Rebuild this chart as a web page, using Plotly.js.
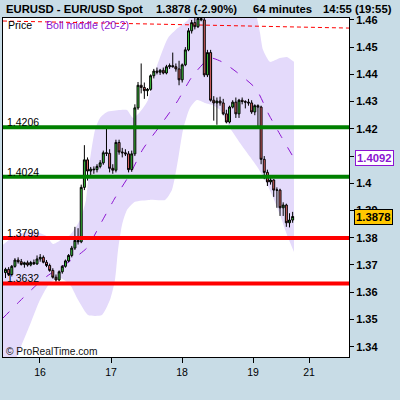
<!DOCTYPE html>
<html>
<head>
<meta charset="utf-8">
<script src="https://cdn.plot.ly/plotly-3.0.1.min.js"></script>
<style>html,body{margin:0;padding:0;background:#C8DCE6;}#chart{width:400px;height:400px;}</style>
</head>
<body>
<div id="chart"></div>
<script>
// ---------- DATA ----------
const instrument = "EURUSD - EUR/USD Spot";
const lastQuote = "1.3878 (-2.90%)";
const periodText = "64 minutes";
const timeText = "14:55 (19:55)";

const firstBar = 15.514;          // time of first bar, in days of the month
const barDays = 64 / 1440;        // 64-minute bars

const open = [1.3672,1.3684,1.3665,1.3695,1.3718,1.3712,1.3702,1.3708,1.3700,1.3709,
1.3704,1.3722,1.3728,1.3710,1.3698,1.3680,1.3655,1.3645,1.3675,1.3695,
1.3715,1.3735,1.3762,1.3790,1.3785,1.3985,1.4086,1.4045,1.4052,1.4050,
1.4062,1.4075,1.4112,1.4110,1.4055,1.4048,1.4150,1.4115,1.4112,1.4108,
1.4050,1.4108,1.4277,1.4360,1.4352,1.4340,1.4345,1.4395,1.4412,1.4408,
1.4415,1.4405,1.4428,1.4432,1.4428,1.4420,1.4380,1.4435,1.4490,1.4560,
1.4590,1.4575,1.4605,1.4600,1.4398,1.4480,1.4305,1.4295,1.4302,1.4295,
1.4255,1.4225,1.4280,1.4298,1.4255,1.4305,1.4300,1.4298,1.4295,1.4262,
1.4285,1.4280,1.4088,1.4040,1.4005,1.4012,1.3975,1.3975,1.3910,1.3920,
1.3855,1.3865];
const high = [1.3690,1.3692,1.3700,1.3725,1.3728,1.3722,1.3712,1.3716,1.3715,1.3720,
1.3735,1.3740,1.3735,1.3718,1.3705,1.3688,1.3665,1.3680,1.3700,1.3720,
1.3740,1.3770,1.3840,1.3835,1.3995,1.4140,1.4095,1.4060,1.4062,1.4070,
1.4085,1.4120,1.4200,1.4125,1.4070,1.4160,1.4160,1.4130,1.4125,1.4118,
1.4120,1.4290,1.4372,1.4440,1.4370,1.4350,1.4400,1.4420,1.4425,1.4420,
1.4425,1.4435,1.4440,1.4480,1.4440,1.4450,1.4440,1.4500,1.4570,1.4600,
1.4610,1.4620,1.4630,1.4620,1.4490,1.4490,1.4320,1.4315,1.4318,1.4310,
1.4270,1.4285,1.4305,1.4315,1.4310,1.4315,1.4305,1.4310,1.4305,1.4290,
1.4290,1.4285,1.4100,1.4050,1.4020,1.4015,1.3985,1.3980,1.3930,1.3925,
1.3890,1.3895];
const low = [1.3652,1.3660,1.3658,1.3690,1.3705,1.3698,1.3690,1.3694,1.3695,1.3700,
1.3700,1.3712,1.3706,1.3692,1.3675,1.3650,1.3638,1.3640,1.3668,1.3690,
1.3710,1.3728,1.3755,1.3775,1.3780,1.3975,1.4010,1.4025,1.4035,1.4040,
1.4055,1.4068,1.4100,1.4040,1.4035,1.4040,1.4105,1.4095,1.4100,1.4040,
1.4042,1.4100,1.4270,1.4330,1.4310,1.4320,1.4340,1.4385,1.4400,1.4398,
1.4400,1.4400,1.4420,1.4425,1.4410,1.4360,1.4370,1.4430,1.4485,1.4550,
1.4565,1.4570,1.4595,1.4390,1.4390,1.4300,1.4230,1.4215,1.4285,1.4250,
1.4220,1.4220,1.4275,1.4240,1.4240,1.4290,1.4275,1.4285,1.4255,1.4250,
1.4205,1.4070,1.4015,1.3990,1.3995,1.3950,1.3910,1.3880,1.3880,1.3840,
1.3838,1.3855];
const close = [1.3684,1.3665,1.3695,1.3718,1.3712,1.3702,1.3708,1.3700,1.3709,1.3704,
1.3722,1.3728,1.3710,1.3698,1.3680,1.3655,1.3645,1.3675,1.3695,1.3715,
1.3735,1.3762,1.3790,1.3785,1.3985,1.4086,1.4045,1.4052,1.4050,1.4062,
1.4075,1.4112,1.4110,1.4055,1.4048,1.4150,1.4115,1.4112,1.4108,1.4050,
1.4108,1.4277,1.4360,1.4352,1.4340,1.4345,1.4395,1.4412,1.4408,1.4415,
1.4405,1.4428,1.4432,1.4428,1.4420,1.4380,1.4435,1.4490,1.4560,1.4590,
1.4575,1.4605,1.4600,1.4398,1.4480,1.4305,1.4295,1.4302,1.4295,1.4255,
1.4225,1.4280,1.4298,1.4255,1.4305,1.4300,1.4298,1.4295,1.4262,1.4285,
1.4280,1.4088,1.4040,1.4005,1.4012,1.3975,1.3975,1.3910,1.3920,1.3855,
1.3865,1.3878];

// Bollinger (20,2)
const upperTime = [15.479,15.620,15.803,15.944,16.085,16.183,16.282,16.423,16.563,16.648,16.704,16.775,16.845,16.944,17.127,17.225,17.310,17.408,17.521,17.620,17.718,17.803,17.944,18.085,18.183,18.324,18.535,18.817,18.958,19.056,19.099,19.141,19.239,19.380,19.479,19.577];
const upperBand = [1.3774,1.3803,1.3821,1.3821,1.3807,1.3777,1.3790,1.3810,1.3865,1.3939,1.4086,1.4196,1.4240,1.4262,1.4269,1.4269,1.4240,1.4262,1.4306,1.4409,1.4482,1.4534,1.4571,1.4600,1.4655,1.4692,1.4710,1.4710,1.4673,1.4607,1.4552,1.4490,1.4446,1.4460,1.4464,1.4446];
const lowerTime = [15.479,15.577,15.676,15.859,16.000,16.141,16.282,16.423,16.535,16.676,16.775,16.873,16.986,17.056,17.099,17.155,17.225,17.338,17.549,17.761,17.859,17.944,18.014,18.113,18.211,18.324,18.423,18.535,18.676,18.817,18.958,19.070,19.169,19.268,19.380,19.479,19.577];
const lowerBand = [1.3204,1.3278,1.3362,1.3480,1.3572,1.3634,1.3652,1.3627,1.3572,1.3516,1.3513,1.3516,1.3572,1.3645,1.3755,1.3847,1.3902,1.3932,1.3939,1.3939,1.3976,1.4086,1.4196,1.4277,1.4306,1.4295,1.4288,1.4269,1.4203,1.4148,1.4097,1.4056,1.4012,1.3957,1.3884,1.3810,1.3748];
const middleTime = [15.479,15.718,16.028,16.183,16.366,16.662,16.859,17.056,17.268,17.451,17.690,17.930,18.141,18.394,18.563,18.746,19.042,19.225,19.408,19.577];
const middleBand = [1.3505,1.3568,1.3645,1.3674,1.3704,1.3763,1.3854,1.3946,1.4034,1.4126,1.4211,1.4299,1.4391,1.4460,1.4446,1.4413,1.4347,1.4251,1.4167,1.4092];

// Dashed resistance line
const trendTime = [15.479, 20.352];
const trendPrice = [1.4596, 1.4570];

// Horizontal support / resistance levels
const greenLevels = [1.4206, 1.4024];
const redLevels = [1.3799, 1.3632];

// Axis ticks
const xTickVals = [16, 17, 18, 19, 19.79];
const xTickText = ["16", "17", "18", "19", "21"];
const yTickVals = [1.34,1.35,1.36,1.37,1.38,1.39,1.40,1.41,1.42,1.43,1.44,1.45,1.46];
const yTickText = ["1.34","1.35","1.36","1.37","1.38","1.39","1.4","1.41","1.42","1.43","1.44","1.45","1.46"];

// ---------- CHART ----------
const FONT = "Liberation Sans, Arial, sans-serif";
const PURPLE = "#8C14D2";
const XR = [15.479, 20.352];
const YR = [1.3362, 1.4607];
const times = open.map((_, i) => firstBar + i * barDays);

const L = 3, R = 349, T = 18, B = 357;
const px = x => (x - L) / (R - L);
const py = y => (B - y) / (B - T);

const traces = [
  {type: "scatter", mode: "lines", x: lowerTime, y: lowerBand, line: {width: 0, shape: "spline", smoothing: 0.6}, hoverinfo: "skip"},
  {type: "scatter", mode: "lines", x: upperTime, y: upperBand, fill: "tonexty", fillcolor: "#E4DAFB", line: {width: 0, shape: "spline", smoothing: 0.6}, hoverinfo: "skip"},
  {type: "scatter", mode: "lines", x: trendTime, y: trendPrice, line: {color: "#FF0000", width: 1, dash: "4px,3px"}},
  {type: "scatter", mode: "lines", x: middleTime, y: middleBand, line: {color: PURPLE, width: 1, dash: "9px,11px", shape: "spline", smoothing: 0.6}},
  {type: "candlestick", xaxis: "x2", yaxis: "y2", x: times, open: open, high: high, low: low, close: close,
    increasing: {line: {color: "#000000", width: 1}, fillcolor: "#3CC83C"},
    decreasing: {line: {color: "#000000", width: 1}, fillcolor: "#E06666"},
    whiskerwidth: 0}
];

const shapes = [];
greenLevels.forEach(v => shapes.push({type: "line", xref: "paper", x0: 0, x1: 1, yref: "y", y0: v, y1: v, line: {color: "#008000", width: 4}}));
redLevels.forEach(v => shapes.push({type: "line", xref: "paper", x0: 0, x1: 1, yref: "y", y0: v, y1: v, line: {color: "#FF0000", width: 4}}));

const annotations = [];
const titleFont = {family: FONT, size: 11.3, color: "#000", weight: "bold"};
[[instrument, 5], [lastQuote, 155], [periodText, 252], [timeText, 322]].forEach(([t, x]) => {
  annotations.push({text: t, xref: "paper", yref: "paper", x: px(x), y: py(9), xanchor: "left", yanchor: "middle", showarrow: false, font: titleFont, borderpad: 0});
});
annotations.push({text: "Price", xref: "paper", yref: "paper", x: px(7), y: py(25), xanchor: "left", yanchor: "middle", showarrow: false, font: {family: FONT, size: 10.6, color: "#000"}, borderpad: 0});
annotations.push({text: "Boll middle (20-2)", xref: "paper", yref: "paper", x: px(45), y: py(25), xanchor: "left", yanchor: "middle", showarrow: false, font: {family: FONT, size: 10.6, color: PURPLE}, borderpad: 0});
annotations.push({text: "© ProRealTime.com", xref: "paper", yref: "paper", x: px(5), y: py(351), xanchor: "left", yanchor: "middle", showarrow: false, font: {family: FONT, size: 10.2, color: "#111"}, borderpad: 0});
greenLevels.concat(redLevels).forEach(v => {
  annotations.push({text: v.toFixed(4), xref: "paper", yref: "y", x: px(6), y: v, xanchor: "left", yanchor: "bottom", yshift: -2, showarrow: false, font: {family: FONT, size: 10.5, color: "#000"}, borderpad: 0});
});
annotations.push({text: middleBand[middleBand.length - 1].toFixed(4), xref: "paper", yref: "y", x: 1, xshift: 6, y: middleBand[middleBand.length - 1], xanchor: "left", yanchor: "middle", showarrow: false, font: {family: FONT, size: 11.3, color: PURPLE, weight: "bold"}, bgcolor: "#FFFFFF", bordercolor: PURPLE, borderwidth: 1, borderpad: 1});
annotations.push({text: close[close.length - 1].toFixed(4), xref: "paper", yref: "y", x: 1, xshift: 5, y: close[close.length - 1], xanchor: "left", yanchor: "middle", showarrow: false, font: {family: FONT, size: 11.3, color: "#000", weight: "bold"}, bgcolor: "#FFC800", bordercolor: "#000", borderwidth: 1, borderpad: 1});

const layout = {
  width: 400, height: 400,
  margin: {l: L, r: 400 - R, t: T, b: 400 - B, pad: 0},
  paper_bgcolor: "#C8DCE6", plot_bgcolor: "#FFFFFF",
  showlegend: false,
  boxgap: 0.12,
  xaxis: {range: XR, tickvals: xTickVals, ticktext: xTickText, ticks: "outside", ticklen: 5, tickcolor: "#000",
    showline: true, mirror: true, linecolor: "#000", linewidth: 1, showgrid: false, zeroline: false,
    tickfont: {family: FONT, size: 10.5, color: "#000"}, fixedrange: true},
  yaxis: {range: YR, side: "right", tickvals: yTickVals, ticktext: yTickText, ticks: "outside", ticklen: 4, tickcolor: "#000",
    showline: true, mirror: true, linecolor: "#000", linewidth: 1, showgrid: false, zeroline: false,
    tickfont: {family: FONT, size: 11, color: "#000", weight: "bold"}, fixedrange: true},
  xaxis2: {overlaying: "x", range: XR, visible: false, showgrid: false, zeroline: false, rangeslider: {visible: false}, fixedrange: true},
  yaxis2: {overlaying: "y", range: YR, visible: false, showgrid: false, zeroline: false, fixedrange: true},
  shapes: shapes,
  annotations: annotations
};

Plotly.newPlot("chart", traces, layout, {displayModeBar: false, staticPlot: true});
</script>
</body>
</html>
